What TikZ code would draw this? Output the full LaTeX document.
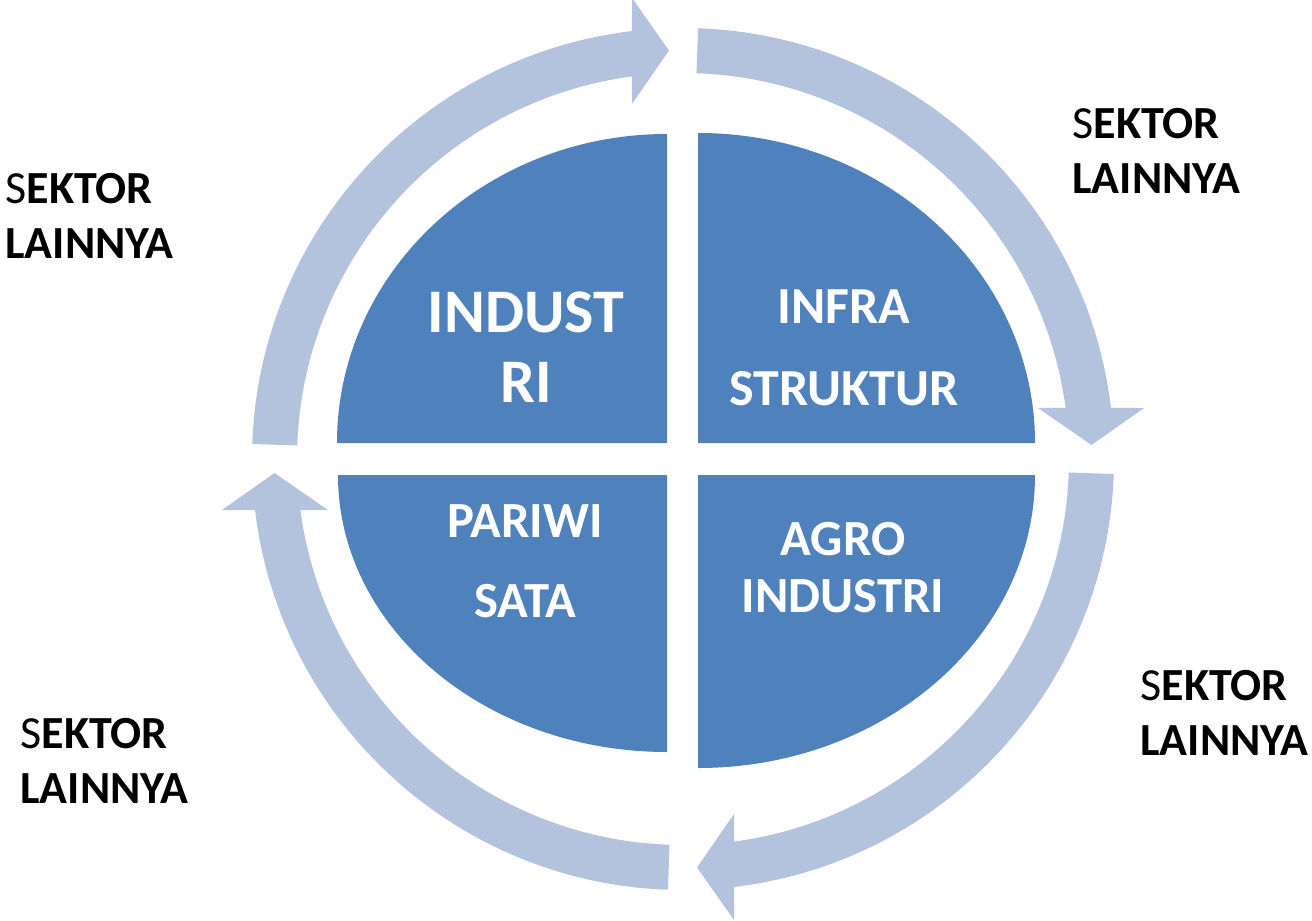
\documentclass[tikz,border=0pt]{standalone}
\usepackage{fontspec}
\setmainfont{Carlito}
\definecolor{quadblue}{RGB}{79,129,189}
\definecolor{ringblue}{RGB}{179,195,222}
\tikzset{every picture/.style={line width=0.75pt}}
\tikzset{
  quad/.style={fill=quadblue, draw=none},
  ringarrow/.style={fill=ringblue, draw=none},
  quadtext/.style={text=white, align=center, inner sep=0pt, anchor=base, font=\bfseries},
  sektor/.style={text=black, align=left, inner sep=0pt, anchor=base west,
    font=\fontsize{34.5}{41.25}\selectfont\bfseries}
}

\begin{document}
\begin{tikzpicture}[x=0.75pt,y=0.75pt,yscale=-1,xscale=1]
\useasboundingbox (0,0) rectangle (1312,920);

% Ring arrows (one shape, turned by quarters round the centre)
\begin{scope}[shift={(683,459)}]
% Shape
\path [ringarrow, rotate=270] (272:431) arc[start angle=272, end angle=353.2, radius=431] -- (461,-51) -- (408.5,-14) -- (355,-51) -- (352.4:386) arc[start angle=352.4, end angle=272, radius=386] -- cycle ;
% Shape
\path [ringarrow] (272:431) arc[start angle=272, end angle=353.2, radius=431] -- (461,-51) -- (408.5,-14) -- (355,-51) -- (352.4:386) arc[start angle=352.4, end angle=272, radius=386] -- cycle ;
% Shape
\path [ringarrow, rotate=90] (272:431) arc[start angle=272, end angle=353.2, radius=431] -- (461,-51) -- (408.5,-14) -- (355,-51) -- (352.4:386) arc[start angle=352.4, end angle=272, radius=386] -- cycle ;
% Shape
\path [ringarrow, rotate=180] (272:431) arc[start angle=272, end angle=353.2, radius=431] -- (461,-51) -- (408.5,-14) -- (355,-51) -- (352.4:386) arc[start angle=352.4, end angle=272, radius=386] -- cycle ;
\end{scope}

% Quadrants
\path [quad] (667,443) -- (337,443) arc[start angle=180, end angle=270, x radius=330, y radius=309] -- cycle ;
\path [quad] (698,443) -- (698,133) arc[start angle=270, end angle=360, x radius=337, y radius=310] -- cycle ;
\path [quad] (667,475) -- (667,752) arc[start angle=90, end angle=180, x radius=329, y radius=277] -- cycle ;
\path [quad] (698,475) -- (1035,475) arc[start angle=0, end angle=90, x radius=337, y radius=293] -- cycle ;

% Text Node
\node [quadtext, font=\fontsize{46.5}{52.5}\selectfont\bfseries] (industri) at (526,402) {INDUST\\RI};
% Text Node
\node [quadtext, font=\fontsize{39}{61.5}\selectfont\bfseries] (infra) at (844,405) {INFRA\\STRUKTUR};
% Text Node
\node [quadtext, font=\fontsize{38}{60}\selectfont\bfseries] (pariwisata) at (525,617) {PARIWI\\SATA};
% Text Node
\node [quadtext, font=\fontsize{38}{42.75}\selectfont\bfseries] (agro) at (843,612) {AGRO\\INDUSTRI};

% Text Node
\node [sektor] (sektorTL) at (5,258) {{\mdseries S}EKTOR\\LAINNYA};
% Text Node
\node [sektor] (sektorTR) at (1072,193) {{\mdseries S}EKTOR\\LAINNYA};
% Text Node
\node [sektor] (sektorBR) at (1140,755) {{\mdseries S}EKTOR\\LAINNYA};
% Text Node
\node [sektor] (sektorBL) at (20,803) {{\mdseries S}EKTOR\\LAINNYA};

\end{tikzpicture}
\end{document}
